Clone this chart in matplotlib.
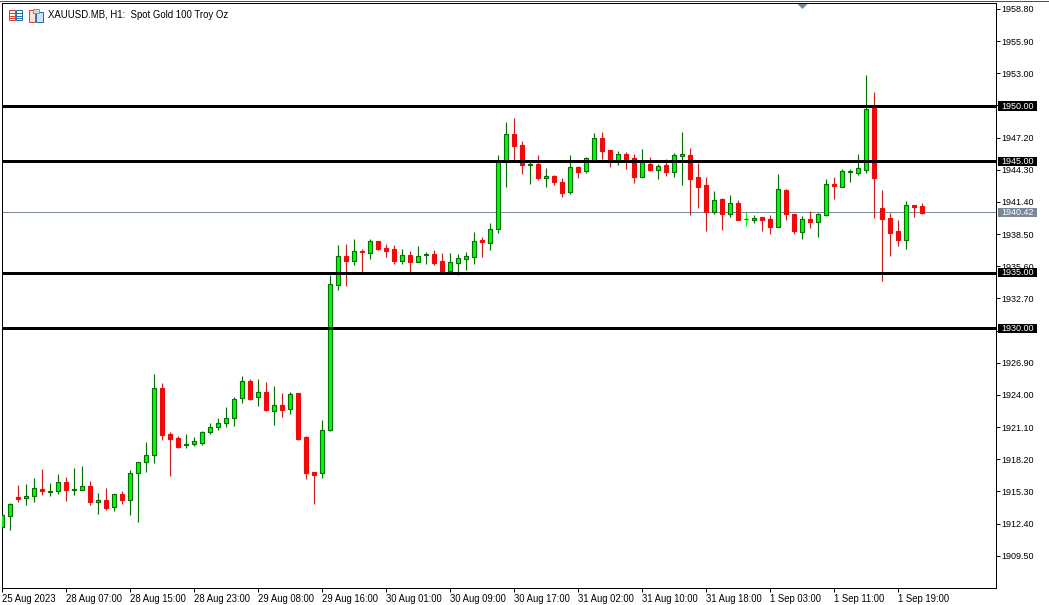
import matplotlib
matplotlib.use('Agg')
import matplotlib.pyplot as plt
from matplotlib.patches import Rectangle, Polygon

W = 1049
H = 605

# XAUUSD H1 candles
opens = [1912.18, 1913.17, 1914.85, 1914.79, 1914.97, 1915.57, 1915.33, 1915.42, 1916.20, 1915.51,
         1915.51, 1915.84, 1914.43, 1914.58, 1913.98, 1915.12, 1914.61, 1916.95, 1917.94, 1918.57,
         1924.66, 1920.52, 1920.16, 1919.47, 1919.56, 1919.65, 1920.64, 1921.09, 1921.45, 1921.90,
         1923.70, 1925.29, 1923.79, 1924.30, 1922.53, 1923.13, 1922.71, 1924.21, 1920.25, 1917.10,
         1916.95, 1920.82, 1933.89, 1936.53, 1936.05, 1936.98, 1936.77, 1937.82, 1937.19, 1937.10,
         1936.05, 1936.62, 1935.96, 1936.59, 1936.65, 1936.02, 1935.12, 1935.87, 1936.23, 1936.41,
         1937.91, 1937.67, 1938.93, 1944.96, 1947.45, 1946.46, 1944.69, 1944.75, 1943.52, 1943.67,
         1943.13, 1942.23, 1944.48, 1944.12, 1945.11, 1947.09, 1946.01, 1945.05, 1945.65, 1945.29,
         1943.58, 1944.76, 1944.25, 1944.67, 1944.07, 1945.48, 1945.57, 1943.59, 1942.87, 1940.44,
         1941.61, 1940.26, 1941.25, 1939.87, 1939.75, 1939.99, 1939.81, 1939.09, 1942.42, 1940.26,
         1938.64, 1939.81, 1939.54, 1940.17, 1942.96, 1942.69, 1944.10, 1943.95, 1944.22, 1949.80,
         1940.80, 1939.90, 1938.73, 1937.92, 1941.07, 1940.98]
highs = [1913.20, 1914.31, 1915.93, 1916.02, 1916.56, 1917.37, 1916.11, 1916.92, 1916.65, 1917.46,
         1917.64, 1916.29, 1915.21, 1915.66, 1915.09, 1915.39, 1917.28, 1917.97, 1919.80, 1925.92,
         1925.11, 1920.70, 1920.34, 1920.52, 1920.25, 1920.79, 1921.51, 1921.96, 1922.95, 1923.85,
         1925.74, 1925.47, 1925.47, 1925.20, 1924.84, 1924.21, 1924.30, 1924.21, 1920.34, 1917.10,
         1921.78, 1934.76, 1937.46, 1937.55, 1938.00, 1937.10, 1938.00, 1937.82, 1937.55, 1937.46,
         1937.10, 1936.92, 1937.37, 1936.83, 1937.01, 1936.74, 1936.74, 1936.65, 1936.83, 1938.63,
         1938.18, 1939.44, 1945.56, 1948.53, 1948.89, 1946.82, 1944.96, 1945.56, 1944.39, 1943.76,
         1943.49, 1945.56, 1944.57, 1945.38, 1947.54, 1947.63, 1946.01, 1945.92, 1945.83, 1945.65,
         1946.10, 1945.39, 1944.82, 1945.21, 1945.75, 1947.64, 1946.20, 1944.85, 1943.59, 1942.33,
         1941.70, 1941.97, 1941.52, 1940.44, 1940.17, 1939.99, 1940.17, 1943.86, 1942.51, 1940.26,
         1940.08, 1940.53, 1940.35, 1943.41, 1943.59, 1944.31, 1944.31, 1945.66, 1952.77, 1951.24,
         1942.42, 1940.35, 1939.72, 1941.43, 1941.07, 1941.25]
lows = [1911.88, 1911.88, 1914.40, 1914.13, 1914.40, 1915.03, 1914.94, 1915.12, 1914.49, 1915.03,
        1915.51, 1914.13, 1913.32, 1913.68, 1913.59, 1914.22, 1913.23, 1912.60, 1917.10, 1917.91,
        1919.98, 1916.74, 1919.26, 1919.26, 1919.44, 1919.53, 1920.52, 1920.88, 1921.15, 1921.24,
        1923.31, 1923.58, 1923.04, 1922.59, 1921.33, 1922.05, 1922.32, 1919.98, 1916.47, 1914.22,
        1916.56, 1920.73, 1933.41, 1933.77, 1935.66, 1935.09, 1936.20, 1937.01, 1936.38, 1935.75,
        1935.75, 1935.09, 1935.93, 1935.75, 1935.66, 1935.09, 1935.09, 1934.76, 1935.21, 1935.75,
        1936.38, 1937.01, 1938.54, 1942.68, 1944.96, 1943.85, 1942.95, 1943.31, 1942.68, 1942.86,
        1941.78, 1942.05, 1943.49, 1943.94, 1944.96, 1945.20, 1944.48, 1944.66, 1944.30, 1943.04,
        1943.58, 1944.13, 1943.41, 1943.68, 1943.59, 1942.87, 1940.17, 1940.80, 1938.73, 1940.26,
        1938.82, 1939.99, 1939.72, 1939.18, 1939.45, 1938.73, 1938.46, 1939.09, 1939.72, 1938.46,
        1938.01, 1939.00, 1938.19, 1940.08, 1941.61, 1942.69, 1943.14, 1943.77, 1943.95, 1939.90,
        1934.23, 1936.48, 1937.38, 1937.11, 1939.99, 1940.26]
closes = [1913.20, 1914.19, 1914.67, 1914.91, 1915.63, 1915.39, 1915.39, 1916.17, 1915.48, 1915.57,
          1915.81, 1914.40, 1914.55, 1913.86, 1915.09, 1914.58, 1916.98, 1917.97, 1918.63, 1924.63,
          1920.43, 1920.07, 1919.35, 1919.59, 1919.89, 1920.70, 1921.15, 1921.51, 1921.96, 1923.67,
          1925.29, 1923.67, 1924.30, 1922.68, 1923.13, 1922.68, 1924.12, 1920.07, 1917.01, 1916.83,
          1920.88, 1934.01, 1936.53, 1936.05, 1936.98, 1936.83, 1937.88, 1937.13, 1936.92, 1936.02,
          1936.62, 1935.93, 1936.53, 1936.65, 1935.84, 1935.09, 1935.99, 1936.35, 1936.47, 1937.88,
          1937.73, 1938.96, 1944.96, 1947.45, 1946.37, 1944.66, 1944.78, 1943.49, 1943.67, 1943.13,
          1942.14, 1944.48, 1944.03, 1945.29, 1947.09, 1945.92, 1944.96, 1945.65, 1945.20, 1943.58,
          1944.96, 1944.22, 1944.64, 1944.04, 1945.54, 1945.66, 1943.41, 1942.69, 1940.44, 1941.52,
          1940.26, 1941.25, 1939.72, 1939.87, 1939.90, 1939.72, 1939.09, 1942.51, 1940.26, 1938.73,
          1939.81, 1939.54, 1940.26, 1942.96, 1942.78, 1944.13, 1944.19, 1944.40, 1949.71, 1943.50,
          1939.81, 1938.55, 1937.92, 1941.07, 1940.89, 1940.35]

price_ticks = [1958.72, 1955.83, 1952.94, 1950.04, 1947.15, 1944.26, 1941.37, 1938.48, 1935.58,
               1932.69, 1929.80, 1926.91, 1924.02, 1921.12, 1918.23, 1915.34, 1912.45, 1909.56]
# the 1950.10 and 1929.80 labels sit under the black level boxes
price_labels = ['1958.80', '1955.90', '1953.00', '', '1947.20', '1944.30', '1941.40', '1938.50', '1935.60',
                '1932.70', '', '1926.90', '1924.00', '1921.10', '1918.20', '1915.30', '1912.40', '1909.50']
time_ticks = [0, 8, 16, 24, 32, 40, 48, 56, 64, 72, 80, 88, 96, 104, 112]
time_labels = ['25 Aug 2023', '28 Aug 07:00', '28 Aug 15:00', '28 Aug 23:00', '29 Aug 08:00',
               '29 Aug 16:00', '30 Aug 01:00', '30 Aug 09:00', '30 Aug 17:00', '31 Aug 02:00',
               '31 Aug 10:00', '31 Aug 18:00', '1 Sep 03:00', '1 Sep 11:00', '1 Sep 19:00']
levels = [1950.0, 1945.0, 1935.0, 1930.0]
last_price = 1940.42
title = 'XAUUSD.MB, H1:  Spot Gold 100 Troy Oz'

GREEN_FILL = '#00ff00'
GREEN_LINE = '#007000'
RED_FILL = '#f00a0a'
RED_LINE = '#c81e1e'
LAST_COL = '#778899'
PX = 72 / 100  # one pixel in points

plt.rcParams['font.family'] = ['Liberation Sans', 'DejaVu Sans']
plt.rcParams['font.size'] = 6.6

fig = plt.figure(figsize=(W / 100, H / 100), dpi=100, facecolor='white')
ax = fig.add_axes([2.2 / W, 1 - 587.5 / H, 993.3 / W, 584.5 / H])
ax.set_xlim(0, 993.3 / 8)
ax.set_ylim(1906.7, 1959.25)

for i in range(len(opens)):
    up = closes[i] >= opens[i]
    wick = GREEN_LINE if up else RED_LINE
    if opens[i] == closes[i]:
        wick = GREEN_FILL
    ax.plot([i, i], [lows[i], highs[i]], color=wick, lw=1.15 * PX, solid_capstyle='butt', zorder=2)
    bottom = min(opens[i], closes[i])
    ax.bar(i, abs(closes[i] - opens[i]), width=4 / 8, bottom=bottom,
           facecolor=GREEN_FILL if up else RED_FILL,
           edgecolor=GREEN_LINE if up else RED_FILL, linewidth=1.15 * PX, zorder=3)

for lev in levels:
    ax.axhline(lev, color='black', lw=3 * PX, zorder=4)
ax.axhline(last_price, color=LAST_COL, lw=PX, zorder=1)

ax.yaxis.tick_right()
ax.set_yticks(price_ticks)
ax.set_yticklabels(price_labels, fontsize=6.5)
ax.set_xticks(time_ticks)
ax.set_xticklabels(time_labels, ha='left', fontsize=6.85)
ax.tick_params(axis='both', length=4 * PX, width=PX, color='black', labelcolor='black')
ax.tick_params(axis='y', pad=1.5)
ax.tick_params(axis='x', pad=1.5)
for s in ax.spines.values():
    s.set_linewidth(PX)

# overlay in pixels for the price boxes, icons and the small marker
over = fig.add_axes([0, 0, 1, 1], zorder=5)
over.set_xlim(0, W)
over.set_ylim(H, 0)
over.axis('off')


def to_y(price):
    return ax.transData.transform((0, price))[1]


for lev in levels + [last_price]:
    y = H - to_y(lev)
    col = 'black' if lev != last_price else LAST_COL
    over.add_patch(Rectangle((998, y - 4.7), 39, 9.4, facecolor=col, edgecolor='none'))
    over.text(1001.5, y + 0.2, '%.2f' % lev, color='white', va='center', ha='left', fontsize=6.5)

over.text(48.5, 14.5, title, color='black', va='center', ha='left', fontsize=6.95)

# window edges
over.plot([0, W], [0.5, 0.5], color='#505050', lw=PX)
over.plot([W - 0.5, W - 0.5], [0, H], color='#e0e0e0', lw=PX)

# chart icons
over.add_patch(Rectangle((8.5, 9.5), 6.5, 10.5, facecolor='white', edgecolor='#e04030', lw=PX))
over.add_patch(Rectangle((15.5, 9.5), 6.5, 10.5, facecolor='white', edgecolor='#2070b0', lw=PX))
for yy in (12.5, 15.5, 18):
    over.plot([10, 14], [yy, yy], color='#e04030', lw=PX)
    over.plot([16.5, 21], [yy, yy], color='#2070b0', lw=PX)
over.add_patch(Rectangle((28.5, 9.5), 6.5, 12, facecolor='#fbe3d8', edgecolor='#e04030', lw=PX))
over.add_patch(Rectangle((35.5, 11.5), 7, 10, facecolor='#cfe4f5', edgecolor='#2070b0', lw=PX))
over.add_patch(Rectangle((32.5, 9), 6, 3.5, facecolor='#d8d8d8', edgecolor='#909090', lw=PX))

over.add_patch(Polygon([(797.5, 4), (807.5, 4), (802.5, 9)], facecolor=LAST_COL, edgecolor='none'))

fig.savefig('out.png', dpi=100)
